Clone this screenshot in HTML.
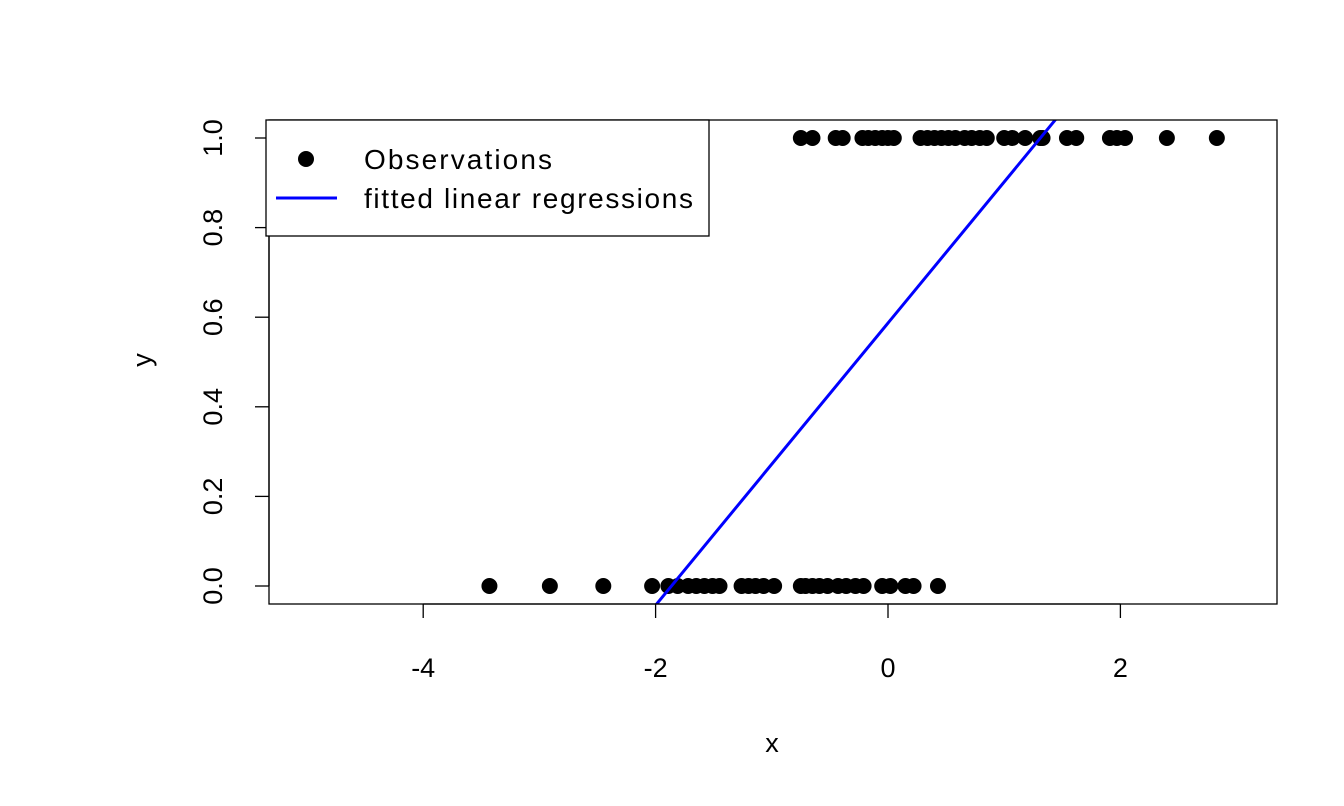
<!DOCTYPE html>
<html><head><meta charset="utf-8"><style>
html,body{margin:0;background:#fff;overflow:hidden;width:1344px;height:806px}
svg{display:block;font-family:"Liberation Sans",Arial,sans-serif}
</style></head><body>
<svg id="chart" width="1344" height="806" viewBox="0 0 1344 806">
<defs><clipPath id="clip"><rect x="269" y="120" width="1008" height="484"/></clipPath></defs>
<g id="marks" clip-path="url(#clip)"></g>
<rect x="269" y="120" width="1008" height="484" fill="none" stroke="#000" stroke-width="1.3"/>
<g id="axes"></g>
<text x="772" y="752" font-size="27" text-anchor="middle">x</text>
<text transform="translate(151,360) rotate(-90)" font-size="27" text-anchor="middle">y</text>
<g>
<rect x="266" y="120" width="443" height="116" fill="#fff" stroke="#000" stroke-width="1.3"/>
<circle cx="306" cy="159" r="8" fill="#000"/>
<text x="364" y="169" font-size="28" textLength="188">Observations</text>
<line x1="276" y1="198" x2="337" y2="198" stroke="#0000ff" stroke-width="3"/>
<text x="364" y="208" font-size="28" textLength="329">fitted linear regressions</text>
</g>
</svg>
<script>
const xOnes=[-0.75,-0.65,-0.45,-0.39,-0.22,-0.17,-0.11,-0.05,0,0.05,0.28,0.34,0.40,0.46,0.52,0.58,0.66,0.72,0.79,0.85,1.0,1.07,1.18,1.31,1.33,1.54,1.62,1.91,1.97,2.04,2.40,2.83];
const xZeros=[-3.43,-2.91,-2.45,-2.03,-1.89,-1.81,-1.72,-1.65,-1.58,-1.51,-1.45,-1.26,-1.20,-1.14,-1.07,-0.98,-0.75,-0.71,-0.65,-0.59,-0.52,-0.43,-0.36,-0.28,-0.21,-0.05,0.02,0.15,0.22,0.43];
const fitIntercept=0.587;
const fitSlope=0.315;
const xTicks=[-4,-2,0,2];
const yTicks=[0,0.2,0.4,0.6,0.8,1.0];
const yTickLabels=["0.0","0.2","0.4","0.6","0.8","1.0"];

const sx=v=>888+v*116.2;
const sy=v=>586-v*448;
const NS="http://www.w3.org/2000/svg";
const marks=document.getElementById('marks'), axes=document.getElementById('axes');
function mk(tag,attrs,parent){const e=document.createElementNS(NS,tag);for(const k in attrs)e.setAttribute(k,attrs[k]);parent.appendChild(e);return e;}

const x0=-6,x1=4;
const ln=mk('line',{x1:sx(x0),y1:sy(fitIntercept+fitSlope*x0),x2:sx(x1),y2:sy(fitIntercept+fitSlope*x1),stroke:'#0000ff','stroke-width':3},marks);


[[xOnes,1],[xZeros,0]].forEach(([arr,yv])=>arr.forEach(v=>{
  const c=mk('circle',{cx:sx(v),cy:sy(yv),r:8,fill:'#000'},marks);
  
  
}));
marks.appendChild(ln);

mk('line',{x1:sx(xTicks[0]),y1:604,x2:sx(xTicks[xTicks.length-1]),y2:604,stroke:'#000','stroke-width':1.3},axes);
xTicks.forEach(t=>{
  mk('line',{x1:sx(t),y1:604,x2:sx(t),y2:618,stroke:'#000','stroke-width':1.3},axes);
  const tx=mk('text',{x:sx(t),y:677,'font-size':27,'text-anchor':'middle'},axes);
  tx.textContent=t;
  
  
});
mk('line',{x1:269,y1:sy(yTicks[0]),x2:269,y2:sy(yTicks[yTicks.length-1]),stroke:'#000','stroke-width':1.3},axes);
yTicks.forEach((t,i)=>{
  mk('line',{x1:255,y1:sy(t),x2:269,y2:sy(t),stroke:'#000','stroke-width':1.3},axes);
  const tx=mk('text',{transform:`translate(222,${sy(t)}) rotate(-90)`,'font-size':27,'text-anchor':'middle'},axes);
  tx.textContent=yTickLabels[i];
  
  
});
</script>
</body></html>
